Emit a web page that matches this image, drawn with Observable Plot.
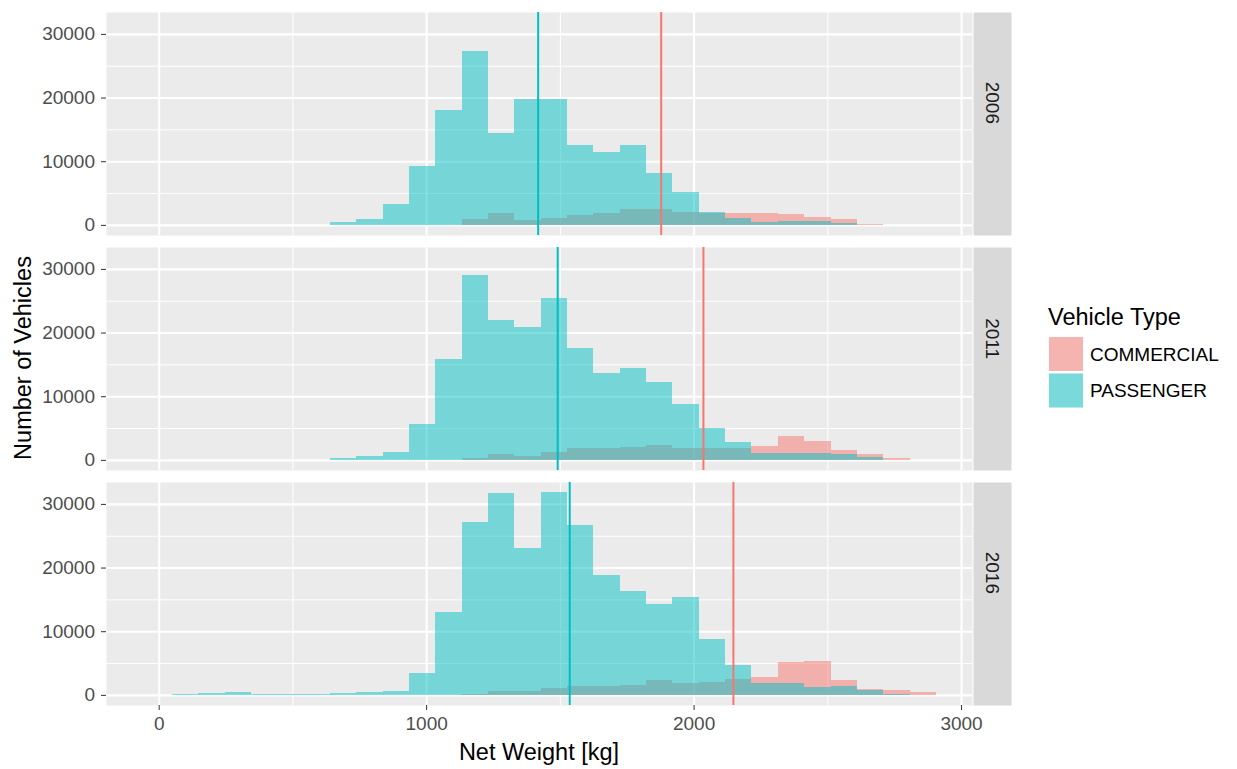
<!DOCTYPE html>
<html><head><meta charset="utf-8">
<script src="https://cdn.jsdelivr.net/npm/d3@7"></script>
<script src="https://cdn.jsdelivr.net/npm/@observablehq/plot@0.6"></script>
<style>
html,body{margin:0;padding:0;background:#fff;}
#wrap{position:relative;width:1237px;height:769px;font-family:"Liberation Sans",Arial,sans-serif;}
#wrap svg{display:block}
#overlay{position:absolute;left:0;top:0;pointer-events:none}
</style></head><body><div id="wrap"></div>
<script>
// ---- data ----
const years = ["2006", "2011", "2016"];
const types = ["COMMERCIAL", "PASSENGER"];
const typeColors = ["#F8766D", "#00BFC4"];
const binStarts = [-49, 49.5, 148, 246.5, 345, 443.5, 542, 640.5, 739, 837.5, 936, 1034.5, 1133, 1231.5, 1330,
  1428.5, 1527, 1625.5, 1724, 1822.5, 1921, 2019.5, 2118, 2216.5, 2315, 2413.5, 2512, 2610.5, 2709, 2807.5];
const binWidth = 98.5;

const passenger2006 = [0, 0, 0, 0, 0, 0, 0, 500, 1000, 3300, 9200, 18100, 27300, 14500, 19800,
  19800, 12500, 11500, 12600, 8200, 5200, 2000, 1100, 500, 600, 600, 300, 0, 0, 0];
const commercial2006 = [0, 0, 0, 0, 0, 0, 0, 0, 0, 0, 0, 0, 1000, 1800, 800,
  1100, 1600, 1850, 2550, 2550, 2000, 1900, 1900, 1900, 1650, 1300, 850, 100, 0, 0];
const passenger2011 = [0, 0, 0, 0, 0, 0, 0, 300, 550, 1200, 5700, 15800, 29000, 21900, 20800,
  25500, 17500, 13700, 14500, 12200, 8800, 5000, 2850, 1050, 1100, 1050, 1000, 400, 0, 0];
const commercial2011 = [0, 0, 0, 0, 0, 0, 0, 0, 0, 0, 0, 0, 300, 950, 650,
  1200, 1900, 1850, 2100, 2300, 1900, 1900, 1900, 2150, 3750, 2900, 1600, 900, 300, 0];
const passenger2016 = [0, 100, 250, 400, 150, 100, 100, 250, 500, 600, 3400, 13000, 27200, 31700, 23000,
  31900, 26700, 18800, 16300, 14300, 15400, 8700, 4700, 1850, 1850, 1300, 1450, 750, 150, 0];
const commercial2016 = [0, 0, 0, 0, 0, 0, 0, 0, 0, 0, 0, 0, 150, 600, 600,
  1100, 1450, 1450, 1500, 2400, 1850, 2100, 2500, 2800, 5200, 5250, 2400, 1000, 800, 400];

const passengerMeans = [1417, 1490, 1535];
const commercialMeans = [1877, 2035, 2147];

const xTicks = [0, 1000, 2000, 3000];
const xMinorTicks = [500, 1500, 2500];
const yTicks = [0, 10000, 20000, 30000];
const yMinorTicks = [5000, 15000, 25000];

// ---- tables ----
const counts = {
  COMMERCIAL: {"2006": commercial2006, "2011": commercial2011, "2016": commercial2016},
  PASSENGER: {"2006": passenger2006, "2011": passenger2011, "2016": passenger2016}
};
const means = {COMMERCIAL: commercialMeans, PASSENGER: passengerMeans};
const rows = [];
for (const type of types) for (const year of years)
  counts[type][year].forEach((c, i) => rows.push({year, type, x1: binStarts[i], x2: binStarts[i] + binWidth, count: c}));
const meanRows = [];
for (const type of types) years.forEach((year, i) => meanRows.push({year, type, mean: means[type][i]}));

const plot = Plot.plot({
  width: 1237, height: 769,
  marginLeft: 106, marginRight: 265, marginTop: 11, marginBottom: 63,
  style: {fontFamily: "'Liberation Sans', Arial, sans-serif", color: "#4D4D4D", background: "white", overflow: "visible"},
  x: {domain: [-197, 3041]},
  y: {domain: [-1590, 33440]},
  fy: {domain: years, paddingInner: 0.051, paddingOuter: 0, axis: null, label: null},
  color: {domain: types, range: typeColors},
  marks: [
    Plot.frame({fill: "#EBEBEB", stroke: "none"}),
    Plot.frame({fill: "#D9D9D9", stroke: "none", insetLeft: 867, insetRight: -39}),
    Plot.ruleX(xMinorTicks, {stroke: "white", strokeWidth: 1}),
    Plot.ruleY(yMinorTicks, {stroke: "white", strokeWidth: 1}),
    Plot.ruleX(xTicks, {stroke: "white", strokeWidth: 2.1}),
    Plot.ruleY(yTicks, {stroke: "white", strokeWidth: 2.1}),
    Plot.rect(rows, {x1: "x1", x2: "x2", y1: () => 0, y2: "count", fy: "year", fill: "type", fillOpacity: 0.5, shapeRendering: "crispEdges"}),
    Plot.ruleX(meanRows, {x: "mean", fy: "year", stroke: "type", strokeWidth: 2}),
    Plot.axisY({ticks: yTicks, tickFormat: d => String(d), tickSize: 5, tickPadding: 6.5, fontSize: 19, label: null, stroke: "#333333", fill: "#4D4D4D"}),
    Plot.axisX({ticks: xTicks, tickFormat: d => String(d), tickSize: 5, tickPadding: 6, fontSize: 19, label: null, stroke: "#333333", fill: "#4D4D4D"}),
    Plot.text(years, {fy: d => d, text: d => d, frameAnchor: "right", dx: 20, rotate: 90, fontSize: 19, fill: "#1A1A1A"})
  ]
});
const wrap = document.getElementById("wrap");
wrap.appendChild(plot);

// ---- titles and legend ----
const ov = d3.select(wrap).append("svg").attr("id", "overlay").attr("width", 1237).attr("height", 769)
  .style("font-family", "'Liberation Sans', Arial, sans-serif");
ov.append("text").attr("x", 539).attr("y", 760).attr("text-anchor", "middle").attr("font-size", 23.5).attr("fill", "#000").text("Net Weight [kg]");
ov.append("text").attr("transform", "translate(30.5,358) rotate(-90)").attr("text-anchor", "middle").attr("font-size", 23.5).attr("fill", "#000").text("Number of Vehicles");
const lg = ov.append("g").attr("transform", "translate(1040,290)");
lg.append("text").attr("x", 8).attr("y", 35).attr("font-size", 23.5).attr("fill", "#000").text("Vehicle Type");
types.forEach((t, i) => {
  const y0 = 47 + i * 36.5;
  lg.append("rect").attr("x", 9).attr("y", y0).attr("width", 34).attr("height", 34).attr("fill", "#F2F2F2");
  lg.append("rect").attr("x", 9).attr("y", y0).attr("width", 34).attr("height", 34).attr("fill", typeColors[i]).attr("fill-opacity", 0.5);
  lg.append("text").attr("x", 50).attr("y", y0 + 17).attr("dy", "0.35em").attr("font-size", 19).attr("fill", "#000").text(t);
});
</script></body></html>
